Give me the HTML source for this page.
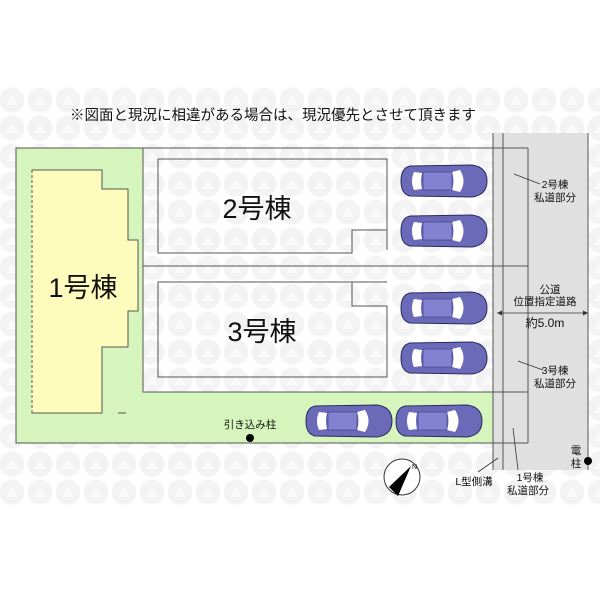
<!DOCTYPE html>
<html><head><meta charset="utf-8"><style>
html,body{margin:0;padding:0;background:#fff;}
svg{display:block;font-family:"Liberation Sans","Noto Sans CJK JP",sans-serif;}
</style></head><body>
<svg width="600" height="600" viewBox="0 0 600 600" xmlns="http://www.w3.org/2000/svg">
<defs>
<pattern id="wm" x="-2" y="86" width="28" height="28" patternUnits="userSpaceOnUse">
<circle cx="14" cy="14" r="12.5" fill="#f3f3f3"/>
<path d="M8 19 L14 9 L20 19 Z" fill="#fafafa"/>
</pattern>
<g id="car">
<path d="M10 2 Q1 4 1 17 Q1 30 10 32 L72 33 Q87 31 87 17 Q87 3 72 1 Z" fill="#6a6ab8" stroke="#2a2a60" stroke-width="1"/>
<path d="M14 8 Q10 17 14 26 L22 25 Q20 17 22 9 Z" fill="#fff"/>
<path d="M60 6 Q67 17 60 28 L52 26 Q55 17 52 8 Z" fill="#fff"/>
<rect x="23" y="8" width="29" height="18" fill="#8282d0" stroke="#3a3a80" stroke-width="0.6"/>
</g>
</defs>
<rect x="0" y="86" width="600" height="420" fill="url(#wm)"/>
<text x="273" y="120" font-size="14.5" text-anchor="middle" fill="#111">※図面と現況に相違がある場合は、現況優先とさせて頂きます</text>
<rect x="493" y="133" width="95" height="337" fill="#e0e0e0"/>
<g stroke="#555" stroke-width="1" fill="none">
<line x1="493" y1="133" x2="493" y2="470"/>
<line x1="503" y1="133" x2="503" y2="470"/>
<line x1="588" y1="133" x2="588" y2="470"/>
<line x1="528" y1="148" x2="528" y2="443"/>
</g>
<path d="M16 148 H143 V392 H493 V443 H16 Z" fill="#d6f5bd" stroke="#555" stroke-width="1"/>
<g stroke="#555" stroke-width="1" fill="none">
<line x1="143" y1="148" x2="528" y2="148"/>
<line x1="143" y1="266" x2="528" y2="266"/>
<line x1="143" y1="392" x2="528" y2="392"/>
<line x1="493" y1="443" x2="528" y2="443"/>
<path d="M158 159 H387 V250"/>
<path d="M387 230 H352 V253 H158 V159"/>
<path d="M387 282 H158 V377 H387 V306 H352 V282"/>
</g>
<path d="M32 170 H102 V189 H128 V240 H138 V311 H128 V347 H102 V413 H32 Z" fill="#fdfcbc" stroke="#555" stroke-width="1"/>
<line x1="32" y1="170" x2="32" y2="413" stroke="#fdfcbc" stroke-width="1.2"/>
<line x1="32" y1="170" x2="32" y2="413" stroke="#555" stroke-width="1" stroke-dasharray="3,2"/>
<line x1="118" y1="413" x2="126" y2="413" stroke="#555"/>
<text x="83" y="297" font-size="27" text-anchor="middle" fill="#111">1号棟</text>
<text x="257" y="218" font-size="27" text-anchor="middle" fill="#111">2号棟</text>
<text x="262" y="341" font-size="27" text-anchor="middle" fill="#111">3号棟</text>
<use href="#car" x="400" y="164"/>
<use href="#car" x="400" y="214"/>
<use href="#car" x="400" y="291"/>
<use href="#car" x="400" y="341"/>
<use href="#car" x="305" y="404"/>
<use href="#car" x="395" y="404"/>
<g font-size="10.5" fill="#111" text-anchor="middle">
<text x="555" y="188">2号棟</text><text x="555" y="201">私道部分</text>
<text x="550" y="293">公道</text><text x="545" y="305">位置指定道路</text>
<text x="545" y="327" font-size="12">約5.0m</text>
<text x="555" y="374">3号棟</text><text x="555" y="387">私道部分</text>
<text x="530" y="481">1号棟</text><text x="528" y="494">私道部分</text>
<text x="474" y="485">L型側溝</text>
<text x="576" y="454">電</text><text x="576" y="467">柱</text>
<text x="250" y="428">引き込み柱</text>
</g>
<g stroke="#333" stroke-width="0.8">
<line x1="514" y1="174" x2="540" y2="184"/>
<line x1="518" y1="361" x2="543" y2="370"/>
<line x1="513" y1="428" x2="518" y2="470"/>
<line x1="498" y1="458" x2="478" y2="472"/>
<line x1="497" y1="313" x2="588" y2="313"/>
</g>
<path d="M497 313 l5 -2.5 v5 Z M588 313 l-5 -2.5 v5 Z" fill="#333"/>
<circle cx="250" cy="438" r="4" fill="#000"/>
<circle cx="588" cy="461" r="4" fill="#000"/>
<circle cx="402" cy="477" r="18" fill="#fff" stroke="#333" stroke-width="1"/>
<path d="M389 487 L411 466 L398 496 Z" fill="#000"/>
<text x="412" y="469" font-size="7" fill="#000">N</text>
</svg>
</body></html>
